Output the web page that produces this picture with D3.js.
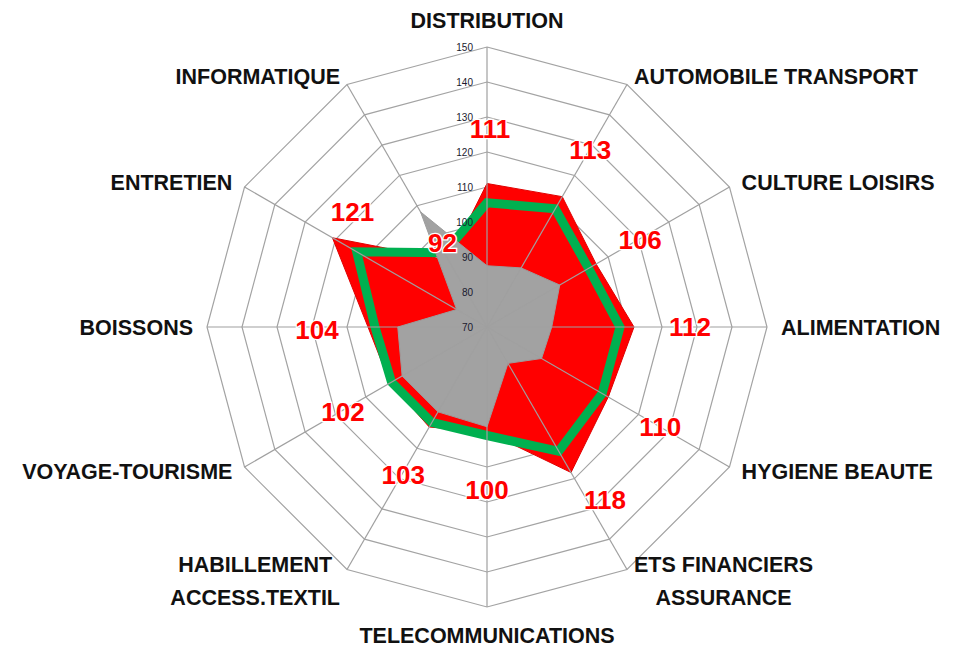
<!DOCTYPE html>
<html>
<head>
<meta charset="utf-8">
<script src="https://cdn.jsdelivr.net/npm/d3@7"></script>
<style>
  body { margin: 0; background: #fff; }
  text { font-family: "Liberation Sans", Arial, sans-serif; }
</style>
</head>
<body>
<svg width="957" height="647"></svg>
<script>
// categories (multi-line labels split into lines)
var categories = [
  ["DISTRIBUTION"], ["AUTOMOBILE TRANSPORT"], ["CULTURE LOISIRS"], ["ALIMENTATION"],
  ["HYGIENE BEAUTE"], ["ETS FINANCIERS", "ASSURANCE"], ["TELECOMMUNICATIONS"],
  ["HABILLEMENT", "ACCESS.TEXTIL"], ["VOYAGE-TOURISME"], ["BOISSONS"], ["ENTRETIEN"], ["INFORMATIQUE"]
];
var redValues   = [111, 113, 106, 112, 110, 118, 100, 103, 102, 104, 121, 92];
var greenValues = [105.5, 109, 103.5, 108, 108, 111, 101, 101.5, 101.5, 102, 113, 94.5];
var greyValues  = [87.5, 89.5, 94, 88.5, 88, 82, 98.5, 98, 98, 95.5, 80, 108];
var ticks = [70, 80, 90, 100, 110, 120, 130, 140, 150];

// where each value label sits relative to its point (px)
var labelShift = [[3, -55], [28, -47], [44, -24], [56, 0], [52, 30], [34, 27], [0, 58],
                  [-26, 48], [-47, 29], [-51, 3], [20, -26], [-6, -17]];

var svg = d3.select("svg"),
    cx = 487, cy = 327, R = 280;

var r = d3.scaleLinear().domain([70, 150]).range([0, R]);
var angle = d3.scaleLinear().domain([0, categories.length]).range([0, 2 * Math.PI]);

var g = svg.append("g").attr("transform", "translate(" + cx + "," + cy + ")");

function pt(i, rad) {
  var a = angle(i);
  return [Math.sin(a) * rad, -Math.cos(a) * rad];
}

var radial = d3.lineRadial()
  .angle(function(d, i) { return angle(i); })
  .radius(function(d) { return r(d); })
  .curve(d3.curveLinearClosed);

// rings
g.selectAll(".ring")
  .data(ticks.slice(1))
  .enter().append("path")
  .attr("class", "ring")
  .attr("d", function(t) { return radial(categories.map(function() { return t; })); })
  .attr("fill", "none")
  .attr("stroke", "#a3a3a3")
  .attr("stroke-width", 1.2);

// red filled series
g.append("path")
  .attr("d", radial(redValues))
  .attr("fill", "#ff0000")
  .attr("stroke", "#e00000")
  .attr("stroke-width", 1);

// green line series
g.append("path")
  .attr("d", radial(greenValues))
  .attr("fill", "none")
  .attr("stroke", "#00b050")
  .attr("stroke-width", 9)
  .attr("stroke-linejoin", "miter");

// grey filled series
var grad = svg.append("defs").append("radialGradient")
  .attr("id", "greyGrad")
  .attr("gradientUnits", "userSpaceOnUse")
  .attr("cx", cx).attr("cy", cy).attr("r", 130);
grad.append("stop").attr("offset", "0%").attr("stop-color", "#878787");
grad.append("stop").attr("offset", "80%").attr("stop-color", "#8c8c8c");
grad.append("stop").attr("offset", "100%").attr("stop-color", "#a2a2a2");

g.append("path")
  .attr("d", radial(greyValues))
  .attr("fill", "url(#greyGrad)")
  .attr("stroke", "#9c9c9c")
  .attr("stroke-width", 1);

// spokes
g.selectAll(".spoke")
  .data(categories)
  .enter().append("line")
  .attr("class", "spoke")
  .attr("x1", 0).attr("y1", 0)
  .attr("x2", function(d, i) { return pt(i, R)[0]; })
  .attr("y2", function(d, i) { return pt(i, R)[1]; })
  .attr("stroke", "#a0a0a0")
  .attr("stroke-width", 1.2);

// tick labels
g.selectAll(".tick")
  .data(ticks)
  .enter().append("text")
  .attr("class", "tick")
  .attr("x", -14)
  .attr("y", function(t) { return -r(t); })
  .attr("dy", "0.35em")
  .attr("text-anchor", "end")
  .attr("font-size", 10)
  .attr("fill", "#1a1a2e")
  .text(function(t) { return t; });

// category labels
categories.forEach(function(lines, i) {
  var a = angle(i), s = Math.sin(a), c = Math.cos(a);
  var end = pt(i, R);
  var lh = 33, fs = 21.5;
  var halfH = 9 + (lines.length - 1) * 4;
  var x = end[0] + s * 14;
  var y = end[1] - c * halfH;
  if (Math.abs(c) > 0.99) y += c > 0 ? -18 : 19;
  var t = g.append("text")
    .attr("font-size", fs)
    .attr("font-weight", "bold")
    .attr("fill", "#111")
    .attr("text-anchor", "middle");
  lines.forEach(function(l, k) {
    t.append("tspan").attr("x", 0)
      .attr("y", y + (k - (lines.length - 1) / 2) * lh)
      .attr("dy", "0.35em")
      .text(l);
  });
  var w = t.node().getBBox().width;
  var mid = Math.abs(s) < 0.01 ? x : (s > 0 ? x + w / 2 : x - w / 2);
  t.selectAll("tspan").attr("x", mid);
});

// value labels
g.selectAll(".val")
  .data(redValues)
  .enter().append("text")
  .attr("class", "val")
  .attr("x", function(d, i) { return pt(i, r(d))[0] + labelShift[i][0]; })
  .attr("y", function(d, i) { return pt(i, r(d))[1] + labelShift[i][1]; })
  .attr("dy", "0.35em")
  .attr("text-anchor", "middle")
  .attr("font-size", 26)
  .attr("font-weight", "bold")
  .attr("fill", "#ff0000")
  .attr("stroke", "#ffffff")
  .attr("stroke-width", 2.5)
  .attr("paint-order", "stroke")
  .text(function(d) { return d; });
</script>
</body>
</html>
